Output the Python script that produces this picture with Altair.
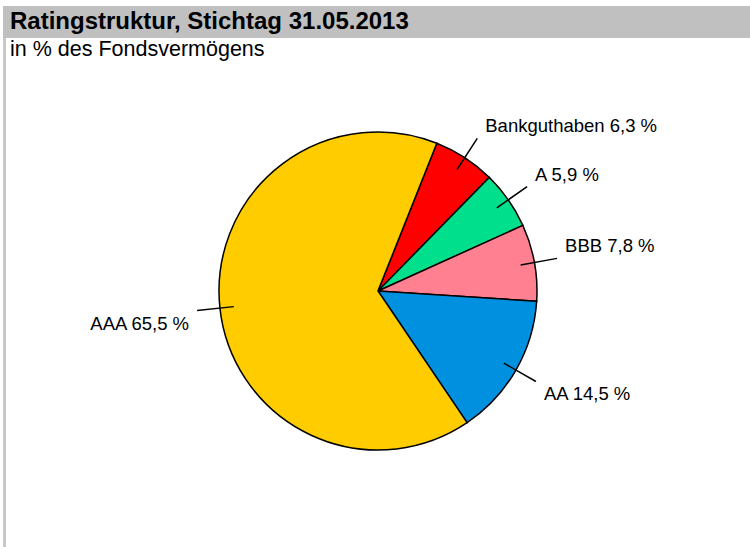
import math
import altair as alt
import pandas as pd

title_text = "Ratingstruktur, Stichtag 31.05.2013"
subtitle_text = "in % des Fondsvermögens"
categories = ["Bankguthaben", "A", "BBB", "AA", "AAA"]
values = [6.3, 5.9, 7.8, 14.5, 65.5]
colors = ["#FF0000", "#00E08C", "#FF8090", "#0090E0", "#FFCC00"]

labels = [f"{c} {str(v).replace('.', ',')} %" for c, v in zip(categories, values)]
df = pd.DataFrame({"idx": list(range(len(categories))), "category": categories,
                   "value": values, "label": labels})

CX, CY, R = 378, 291, 159
OFF = 0.379
R1, R2 = 145, 182
W, H = 750, 547

base = alt.Chart(df)

arcs = base.mark_arc(outerRadius=R, stroke="black", strokeWidth=1.5).encode(
    theta=alt.Theta("value:Q", stack=True,
                    scale=alt.Scale(domain=[0, 100], range=[OFF, OFF + 2 * math.pi])),
    color=alt.Color("category:N", scale=alt.Scale(domain=categories, range=colors), legend=None),
    order=alt.Order("idx:Q"),
    x=alt.value(CX), y=alt.value(CY),
)

calc = base.transform_window(
    cum="sum(value)", sort=[alt.SortField("idx")]
).transform_calculate(
    a=f"{OFF} + 2*PI*(datum.cum - datum.value/2)/100"
).transform_calculate(
    x1=f"{CX} + {R1}*sin(datum.a)", y1=f"{CY} - {R1}*cos(datum.a)",
    x2=f"{CX} + {R2}*sin(datum.a)", y2=f"{CY} - {R2}*cos(datum.a)",
).transform_calculate(
    tx=f"datum.x2 + (sin(datum.a) > 0 ? 8 : -8)",
    ty=f"datum.y2 + (cos(datum.a) > 0 ? -12 : 13)",
    side="sin(datum.a) > 0 ? 'r' : 'l'",
)

rules = calc.mark_rule(color="black", strokeWidth=1.5).encode(
    x=alt.X("x1:Q", scale=None), y=alt.Y("y1:Q", scale=None),
    x2="x2:Q", y2="y2:Q",
)

LFS = 18.5
txt_r = calc.transform_filter("datum.side == 'r'").mark_text(
    align="left", baseline="middle", font="Liberation Sans", fontSize=LFS, color="black"
).encode(x=alt.X("tx:Q", scale=None), y=alt.Y("ty:Q", scale=None), text="label:N")

txt_l = calc.transform_filter("datum.side == 'l'").mark_text(
    align="right", baseline="middle", font="Liberation Sans", fontSize=LFS, color="black"
).encode(x=alt.X("tx:Q", scale=None), y=alt.Y("ty:Q", scale=None), text="label:N")

one = alt.Data(values=[{"t": title_text, "s": subtitle_text}])

header = alt.Chart(one).mark_rect(color="#C0C0C0").encode(
    x=alt.value(3), x2=alt.value(W), y=alt.value(6), y2=alt.value(38))
leftline = alt.Chart(one).mark_rule(color="#C8C8C8", strokeWidth=3).encode(
    x=alt.value(4.5), y=alt.value(38), y2=alt.value(H))
title = alt.Chart(one).mark_text(
    align="left", baseline="middle", font="Liberation Sans", fontSize=24,
    fontWeight="bold", color="black").encode(
    x=alt.value(10), y=alt.value(22), text="t:N")
subtitle = alt.Chart(one).mark_text(
    align="left", baseline="middle", font="Liberation Sans", fontSize=21.5,
    color="black").encode(
    x=alt.value(10), y=alt.value(50), text="s:N")

chart = alt.layer(header, leftline, title, subtitle, arcs, rules, txt_r, txt_l).properties(
    width=W, height=H, padding=0, autosize=alt.AutoSizeParams(type="none"),
    background="white",
).configure_view(strokeWidth=0)

chart.save("out.html", embed_options={"renderer": "svg", "actions": False})
